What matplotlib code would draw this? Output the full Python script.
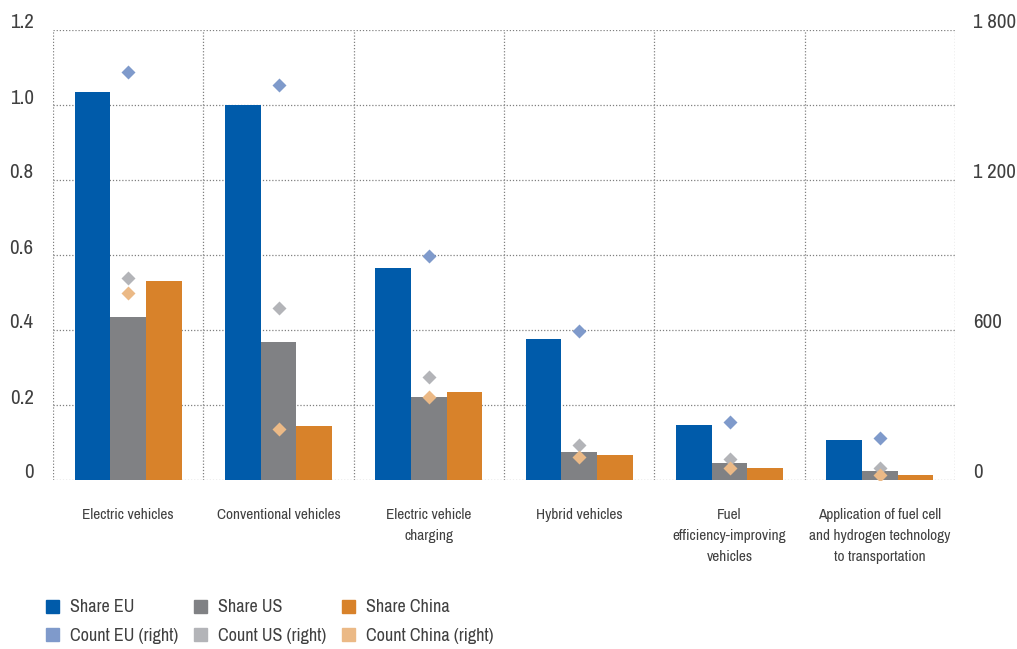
import matplotlib
matplotlib.use("Agg")
import matplotlib.pyplot as plt
import matplotlib.transforms as mtransforms
from matplotlib.patches import Patch
import numpy as np
from matplotlib import font_manager

categories = ["Electric vehicles", "Conventional vehicles", "Electric vehicle\ncharging",
              "Hybrid vehicles", "Fuel\nefficiency-improving\nvehicles",
              "Application of fuel cell\nand hydrogen technology\nto transportation"]
share_eu = [1.035, 1.0, 0.565, 0.376, 0.147, 0.107]
share_us = [0.435, 0.368, 0.221, 0.075, 0.045, 0.024]
share_cn = [0.531, 0.144, 0.235, 0.067, 0.032, 0.013]
count_eu = [1632, 1580, 896, 596, 232, 168]
count_us = [808, 688, 412, 140, 84, 48]
count_cn = [748, 204, 332, 92, 48, 20]
left_ticks = [0, 0.2, 0.4, 0.6, 0.8, 1.0, 1.2]
left_labels = ["0", "0.2", "0.4", "0.6", "0.8", "1.0", "1.2"]
right_ticks = [0, 600, 1200, 1800]
right_labels = ["0", "600", "1 200", "1 800"]
legend_labels = [["Share EU", "Count EU (right)"], ["Share US", "Count US (right)"],
                 ["Share China", "Count China (right)"]]

names = sorted({f.name for f in font_manager.fontManager.ttflist})
narrow = [n for n in names if ("Condensed" in n or "Narrow" in n) and "Mono" not in n and "Serif" not in n]
fam = narrow[0] if narrow else "Liberation Sans"
is_narrow = bool(narrow)
plt.rcParams['font.family'] = [fam, 'DejaVu Sans']

c_eu, c_us, c_cn = "#005BAA", "#808184", "#D8822A"
k_eu, k_us, k_cn = "#7F9ACB", "#B3B4B8", "#EBB986"
txt = "#404040"

fs_tick = 15 if is_narrow else 13
fs_cat = 11 if is_narrow else 10
fs_leg = 13 if is_narrow else 11.5

fig = plt.figure(figsize=(10.17, 6.49), dpi=100)
W, H = 1017, 649
ax = fig.add_axes([53 / W, 1 - 480 / H, (955 - 53) / W, 450 / H])
ax2 = ax.twinx()

x = np.arange(len(categories))
bw = 0.237
ax.bar(x - bw, share_eu, bw, color=c_eu, zorder=3)
ax.bar(x, share_us, bw, color=c_us, zorder=3)
ax.bar(x + bw, share_cn, bw, color=c_cn, zorder=3)

ms = 7.5
ax2.plot(x, count_eu, linestyle="none", marker="D", ms=ms, color=k_eu, mec="none", zorder=4)
ax2.plot(x, count_us, linestyle="none", marker="D", ms=ms, color=k_us, mec="none", zorder=4)
ax2.plot(x, count_cn, linestyle="none", marker="D", ms=ms, color=k_cn, mec="none", zorder=4)

ax.set_xlim(-0.5, len(categories) - 0.5)
ax.set_ylim(0, 1.2)
ax2.set_ylim(0, 1800)

ax.set_yticks(left_ticks)
ax.set_yticklabels(left_labels)
ax2.set_yticks(right_ticks)
ax2.set_yticklabels(right_labels)
ax.set_xticks(x)
ax.set_xticklabels(categories, fontsize=fs_cat, color=txt, linespacing=1.65)
ax.tick_params(axis="x", length=0, pad=20)
ax.tick_params(axis="y", length=0, pad=14, labelsize=fs_tick, labelcolor=txt)
ax2.tick_params(axis="y", length=0, pad=13, labelsize=fs_tick, labelcolor=txt)

off = mtransforms.ScaledTranslation(0, 9 / 100, fig.dpi_scale_trans)
for lab in ax.get_yticklabels() + ax2.get_yticklabels():
    lab.set_transform(lab.get_transform() + off)

for s in list(ax.spines.values()) + list(ax2.spines.values()):
    s.set_visible(False)

gl = dict(color="#808080", linestyle=(0, (1, 1.5)), linewidth=0.9, zorder=1)
for yv in left_ticks:
    ax.axhline(yv, **gl)
for xv in np.arange(-0.5, len(categories), 1.0):
    ax.axvline(xv, **gl)
ax.set_axisbelow(True)

colors = [(c_eu, k_eu), (c_us, k_us), (c_cn, k_cn)]
col_x = [32, 180, 328]
for cx, (cs, ck), labs in zip(col_x, colors, legend_labels):
    fig.legend([Patch(color=cs), Patch(color=ck)], labs, loc="upper left",
               bbox_to_anchor=(cx / W, 1 - 585 / H), frameon=False, fontsize=fs_leg,
               handlelength=0.72, handleheight=0.72, handletextpad=0.6,
               labelspacing=0.67, labelcolor=txt, borderpad=0.3)

fig.savefig("out.png", dpi=100)
